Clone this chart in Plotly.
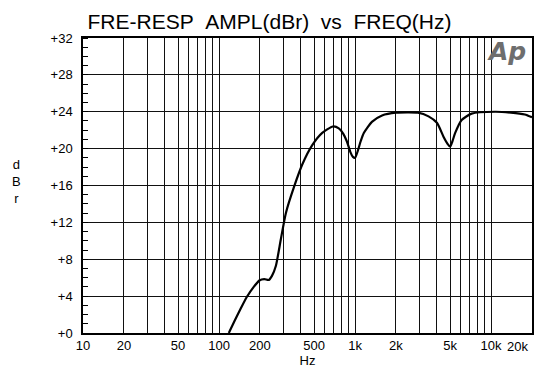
import plotly.graph_objects as go

# ---- data ----
freq_hz = [118, 130, 145, 160, 180, 198, 215, 232, 245, 262, 285, 310, 357, 410,
           486, 574, 687, 760, 820, 870, 926, 965, 1000, 1050, 1100, 1160, 1330,
           1580, 2000, 2900, 3470, 4000, 4470, 4800, 5000, 5200, 5450, 6080, 7200,
           10700, 14000, 17700, 20000]
ampl_dbr = [0.0, 1.3, 2.7, 3.9, 5.0, 5.7, 5.85, 5.75, 6.2, 7.3, 10.2, 13.0, 15.9, 18.3,
            20.4, 21.7, 22.4, 22.2, 21.6, 20.8, 19.6, 19.1, 19.0, 19.8, 20.8, 21.7, 22.9,
            23.6, 23.9, 23.9, 23.5, 22.8, 21.3, 20.5, 20.2, 20.8, 21.7, 23.1, 23.8,
            24.0, 23.9, 23.7, 23.4]

x_grid_vals = [m * 10 ** d for d in range(1, 5) for m in range(1, 10) if m * 10 ** d <= 20000]
x_label_map = {10: "10", 20: "20", 50: "50", 100: "100", 200: "200", 500: "500",
               1000: "1k", 2000: "2k", 5000: "5k", 10000: "10k"}
x_last_label = "20k"
y_tick_vals = [0, 4, 8, 12, 16, 20, 24, 28, 32]
y_tick_text = ["+0", "+4", "+8", "+12", "+16", "+20", "+24", "+28", "+32"]

title_text = "FRE-RESP\u00a0\u00a0AMPL(dBr)\u00a0\u00a0vs\u00a0\u00a0FREQ(Hz)"

FONT = "Liberation Sans, Arial, Helvetica, sans-serif"

fig = go.Figure()
fig.add_trace(go.Scatter(
    x=freq_hz, y=ampl_dbr, mode="lines",
    line=dict(color="black", width=2.2, shape="spline", smoothing=0.6),
    hoverinfo="skip", showlegend=False))

fig.update_layout(
    width=539, height=369,
    margin=dict(l=83, r=5, t=38, b=35),
    paper_bgcolor="white", plot_bgcolor="white",
    font=dict(family=FONT, size=13, color="black"),
    title=dict(text=title_text, x=0.5, xref="container", xanchor="center",
               y=0.94, yref="container", yanchor="middle",
               font=dict(family=FONT, size=21, color="black")),
    xaxis=dict(
        type="log", range=[1, 4.30103],
        tickmode="array", tickvals=x_grid_vals,
        ticktext=[x_label_map.get(v, "") for v in x_grid_vals],
        ticks="", showgrid=True, gridcolor="#111111", gridwidth=1,
        showline=True, linecolor="black", linewidth=1.5, mirror=True,
        zeroline=False, tickfont=dict(size=13),
        title=dict(text="Hz", standoff=2, font=dict(size=13)),
    ),
    yaxis=dict(
        range=[0, 32], tickmode="array", tickvals=y_tick_vals, ticktext=y_tick_text,
        ticks="", showgrid=True, gridcolor="#111111", gridwidth=1,
        showline=True, linecolor="black", linewidth=1.5, mirror=True,
        zeroline=False, tickfont=dict(size=13), ticklabelstandoff=6,
        minor=dict(dtick=1, ticks="inside", ticklen=5, tickcolor="black",
                   tickwidth=1, showgrid=False),
    ),
    annotations=[
        dict(text=x_last_label, xref="paper", yref="paper", x=1, y=0,
             xanchor="right", yanchor="top", xshift=-2, yshift=-4,
             showarrow=False, font=dict(size=13, color="black")),
        dict(text="d<br>B<br>r", xref="paper", yref="paper", x=-0.147, y=0.515,
             xanchor="center", yanchor="middle", showarrow=False,
             font=dict(size=13, color="black")),
        dict(text="<b><i>Ap</i></b>", xref="paper", yref="paper", x=0.99, y=1.0,
             xanchor="right", yanchor="top", yshift=3, showarrow=False,
             font=dict(family="DejaVu Sans, sans-serif", size=25, color="#6e6e6e")),
    ],
)

fig.write_html("out.html", config={"displayModeBar": False},
               post_script="document.body.style.margin='0';document.body.style.padding='0';")
